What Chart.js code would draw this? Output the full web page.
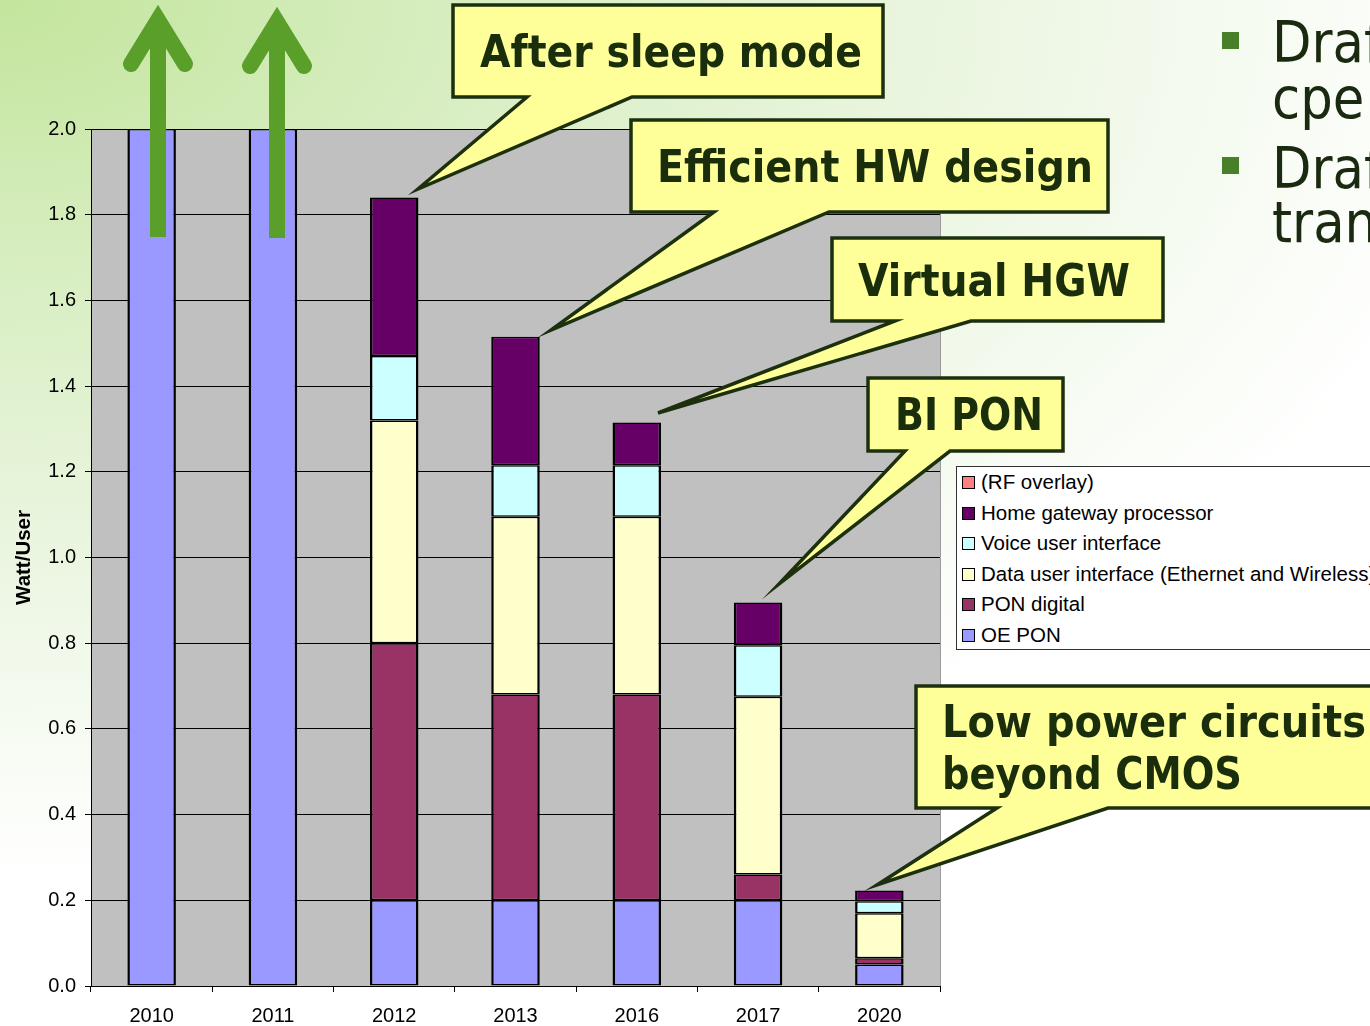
<!DOCTYPE html>
<html>
<head>
<meta charset="utf-8">
<script src="https://cdn.jsdelivr.net/npm/chart.js@4.4.1/dist/chart.umd.min.js"></script>
<style>
  html, body { margin: 0; padding: 0; }
  body {
    width: 1370px; height: 1026px; overflow: hidden; position: relative;
    background:
      radial-gradient(ellipse 1900px 1100px at 0 0, #c3e59c 0%, #d8eec2 25%, #e9f5de 48%, #f6fbf2 66%, #ffffff 80%);
    font-family: "Liberation Sans", Arial, sans-serif;
  }
  #chartBox { position: absolute; left: 0; top: 0; width: 1370px; height: 1026px; }
  #legend {
    position: absolute; left: 956px; top: 466px; width: 440px; height: 184px;
    background: #fff; border: 1px solid #333; box-sizing: border-box;
  }
  #legend .item {
    position: absolute; left: 5px; height: 22px; line-height: 22px;
    font-size: 20.5px; color: #000; white-space: nowrap;
  }
  #legend .sw {
    display: inline-block; width: 11px; height: 11px; border: 1px solid #000;
    margin-right: 6px; vertical-align: 0px;
  }
  #overlay { position: absolute; left: 0; top: 0; }
</style>
</head>
<body>
<div id="chartBox"><canvas id="powerChart" width="1370" height="1026"></canvas></div>
<div id="legend"></div>
<svg id="overlay" width="1370" height="1026" xmlns="http://www.w3.org/2000/svg"></svg>
<script>
const years = ['2010', '2011', '2012', '2013', '2016', '2017', '2020'];
const oePon      = [2.0, 2.0, 0.2, 0.2, 0.2, 0.2, 0.05];
const ponDigital = [null, null, 0.6, 0.48, 0.48, 0.06, 0.015];
const dataUser   = [null, null, 0.52, 0.415, 0.415, 0.415, 0.105];
const voiceUser  = [null, null, 0.15, 0.12, 0.12, 0.12, 0.028];
const hgwProc    = [null, null, 0.37, 0.30, 0.10, 0.10, 0.025];
const rfOverlay  = [0, 0, 0, 0, 0, 0, 0];
const yTickLabels = ['0.0', '0.2', '0.4', '0.6', '0.8', '1.0', '1.2', '1.4', '1.6', '1.8', '2.0'];

const callouts = [
    { lines: ['After sleep mode'] },
    { lines: ['Efficient HW design'] },
    { lines: ['Virtual HGW'] },
    { lines: ['BI PON'] },
    { lines: ['Low power circuits', 'beyond CMOS'] }
];

// grey plot area like the old excel chart
const plotBg = {
    id: 'plotBg',
    beforeDraw(chart) {
        const { ctx, chartArea: a } = chart;
        ctx.save();
        ctx.fillStyle = '#c0c0c0';
        ctx.fillRect(a.left, a.top, a.right - a.left, a.bottom - a.top);
        ctx.strokeStyle = '#9a9a9a';
        ctx.lineWidth = 1;
        ctx.beginPath();
        ctx.moveTo(a.right + 0.5, a.top);
        ctx.lineTo(a.right + 0.5, a.bottom);
        ctx.stroke();
        ctx.restore();
    }
};

const segBorder = { top: 1.5, bottom: 1.5, left: 2.5, right: 2.5 };

function series(label, data, color) {
    return {
        label: label,
        data: data,
        backgroundColor: color,
        borderColor: '#000',
        borderWidth: segBorder,
        borderSkipped: false,
        barPercentage: 0.4,
        categoryPercentage: 1.0
    };
}

const datasets = [
    series('OE PON', oePon, '#9999ff'),
    series('PON digital', ponDigital, '#993366'),
    series('Data user interface (Ethernet and Wireless)', dataUser, '#ffffcc'),
    series('Voice user interface', voiceUser, '#ccffff'),
    series('Home gateway processor', hgwProc, '#660066'),
    series('(RF overlay)', rfOverlay, '#ff8080')
];
datasets[5].borderWidth = 0;

const axisFont = { size: 20, family: 'Liberation Sans' };

const chart = new Chart(document.getElementById('powerChart').getContext('2d'), {
    type: 'bar',
    data: { labels: years, datasets: datasets },
    options: {
        responsive: false,
        animation: false,
        layout: { padding: { left: 0, top: 129, right: 430, bottom: 0 } },
        plugins: {
            legend: { display: false },
            tooltip: { enabled: false }
        },
        scales: {
            x: {
                stacked: true,
                grid: { drawOnChartArea: false, drawTicks: true, tickLength: 6, color: '#000', offset: true },
                border: { color: '#000', width: 1 },
                ticks: { color: '#000', font: axisFont, padding: 12, maxRotation: 0 },
                afterFit(scale) { scale.height = 40; }
            },
            y: {
                stacked: true,
                min: 0,
                max: 2,
                grid: { color: '#000', lineWidth: 1, tickLength: 6 },
                border: { color: '#000', width: 1 },
                ticks: {
                    stepSize: 0.2,
                    color: '#000',
                    padding: 9,
                    font: axisFont,
                    callback: function(value, index) {
                        return yTickLabels[index];
                    }
                },
                title: {
                    display: true,
                    text: 'Watt/User',
                    color: '#000',
                    font: { size: 20.5, weight: 'bold', family: 'Liberation Sans' },
                    padding: { top: 12, bottom: 0 }
                },
                afterFit(scale) { scale.width = 91; }
            }
        }
    },
    plugins: [plotBg]
});

// legend in the excel order: top of the stack first
const legendEl = document.getElementById('legend');
chart.data.datasets.slice().reverse().forEach((ds, i) => {
    const row = document.createElement('div');
    row.className = 'item';
    row.style.top = (4 + i * 30.6) + 'px';
    row.innerHTML = '<span class="sw" style="background:' + ds.backgroundColor + '"></span>' + ds.label;
    legendEl.appendChild(row);
});

// callouts, arrows and the slide text
const NS = 'http://www.w3.org/2000/svg';
const svg = document.getElementById('overlay');

function el(name, attrs, parent) {
    const e = document.createElementNS(NS, name);
    for (const k in attrs) e.setAttribute(k, attrs[k]);
    (parent || svg).appendChild(e);
    return e;
}

function arrow(x, tipY, bottomY) {
    const g = el('g', { stroke: '#5b9f2b', 'stroke-width': 16, fill: 'none' });
    el('line', { x1: x, y1: tipY + 14, x2: x, y2: bottomY }, g);
    el('polyline', {
        points: (x - 27) + ',' + (tipY + 59) + ' ' + x + ',' + (tipY + 15) + ' ' + (x + 27) + ',' + (tipY + 59),
        'stroke-linecap': 'round', 'stroke-linejoin': 'miter'
    }, g);
}
arrow(158, 5, 237);
arrow(277, 7, 238);

// box: x1,y1,x2,y2 ; wedge base baseL..baseR on the bottom edge ; tip
const calloutGeo = [
    { box: [453, 5, 883, 97], base: [527, 632], tip: [418, 189], text: [[480, 67, 382]] },
    { box: [631, 120, 1108, 212], base: [714, 829], tip: [551, 330], text: [[657, 182, 436]] },
    { box: [832, 238, 1163, 321], base: [895, 971], tip: [658, 413], text: [[858, 296, 272]] },
    { box: [868, 378, 1063, 451], base: [905, 950], tip: [779, 584], text: [[895, 430, 148]] },
    { box: [916, 686, 1390, 808], base: [997, 1108], tip: [877, 885], text: [[942, 737, 424], [942, 789, 300]] }
];

calloutGeo.forEach((c, i) => {
    const [x1, y1, x2, y2] = c.box;
    const d = 'M' + x1 + ',' + y1 + ' L' + x2 + ',' + y1 + ' L' + x2 + ',' + y2 +
        ' L' + c.base[1] + ',' + y2 + ' L' + c.tip[0] + ',' + c.tip[1] +
        ' L' + c.base[0] + ',' + y2 + ' L' + x1 + ',' + y2 + ' Z';
    el('path', { d: d, fill: '#ffff99', stroke: '#1c300e', 'stroke-width': 3.5, 'stroke-linejoin': 'miter', 'stroke-miterlimit': 20 });
    c.text.forEach((t, j) => {
        const tx = el('text', {
            x: t[0], y: t[1], textLength: t[2], lengthAdjust: 'spacingAndGlyphs',
            fill: '#1a2e0c', 'font-size': 45, 'font-weight': 'bold',
            'font-family': '"DejaVu Sans Condensed", "DejaVu Sans", sans-serif'
        });
        tx.textContent = callouts[i].lines[j];
    });
});

// bullet text cut off at the right edge of the slide
const bullets = [
    { lines: [['Draf', 62], ['cpe', 118]], y: 32 },
    { lines: [['Draf', 188], ['tran', 242]], y: 157 }
];
bullets.forEach(b => {
    el('rect', { x: 1222, y: b.y, width: 17, height: 17, fill: '#4a7f2a' });
    b.lines.forEach(l => {
        const tx = el('text', {
            x: 1272, y: l[1], fill: '#1a2a10', 'font-size': 57,
            'font-family': '"DejaVu Sans Condensed", "DejaVu Sans", sans-serif'
        });
        tx.textContent = l[0];
    });
});
</script>
</body>
</html>
